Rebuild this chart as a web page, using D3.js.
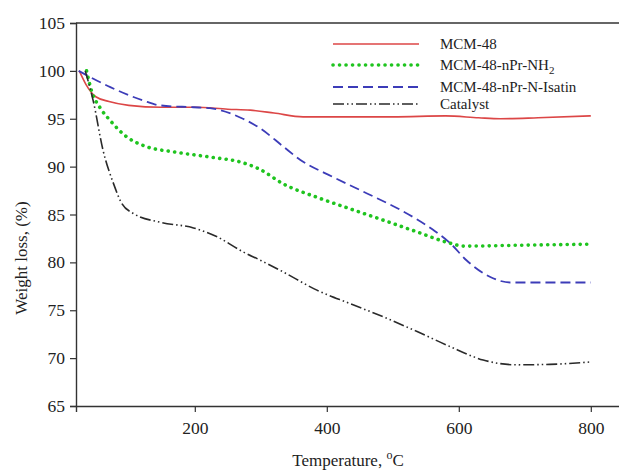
<!DOCTYPE html>
<html>
<head>
<meta charset="utf-8">
<script src="https://cdn.jsdelivr.net/npm/d3@7"></script>
<style>
  html, body { margin: 0; padding: 0; background: #fff; }
  svg { display: block; font-family: "Liberation Serif", "Times New Roman", serif; }
</style>
</head>
<body>
<svg id="chart" width="619" height="471"></svg>
<script>
// ---- data ----
const seriesNames = ["MCM-48", "MCM-48-nPr-NH2", "MCM-48-nPr-N-Isatin", "Catalyst"];
const mcm48 = [[25,100],[35,98.6],[50,97.3],[70,96.8],[100,96.4],[150,96.2],[200,96.2],[250,96.0],[284,95.9],[320,95.6],[364,95.2],[420,95.2],[500,95.2],[580,95.3],[630,95.1],[663,95.0],[720,95.1],[800,95.3]];
const nh2 = [[36,100],[44,97.8],[56,96.2],[72,94.8],[97,93.1],[122,92.2],[172,91.5],[223,91.0],[273,90.4],[299,89.7],[334,88.2],[385,86.8],[435,85.6],[486,84.4],[536,83.2],[587,82.0],[607,81.7],[700,81.8],[800,81.9]];
const isatin = [[24,100],[72,98.3],[122,96.9],[147,96.4],[198,96.2],[223,96.1],[273,95.0],[299,94.0],[334,92.1],[360,90.7],[410,88.9],[461,87.2],[511,85.5],[561,83.4],[587,82.0],[612,80.2],[647,78.5],[678,77.9],[740,77.9],[800,77.9]];
const catalyst = [[34,100],[46,96.9],[61,91.7],[77,88.2],[89,86.2],[107,85.1],[147,84.2],[198,83.6],[233,82.7],[273,81.1],[300,80.2],[334,79.0],[385,77.1],[435,75.7],[486,74.3],[536,72.8],[587,71.2],[637,69.8],[688,69.3],[738,69.35],[800,69.6]];
const seriesData = [mcm48, nh2, isatin, catalyst];
const yTicks = [65, 70, 75, 80, 85, 90, 95, 100, 105];
const xTicks = [200, 400, 600, 800];

// ---- styles / layout ----
const styles = [
  {color: "#dc4646", width: 1.6, dash: null, cap: "butt"},
  {color: "#1fc41f", width: 3.6, dash: "0.1,6.4", cap: "round"},
  {color: "#3c3cb8", width: 1.8, dash: "10,5", cap: "butt"},
  {color: "#2a2a2a", width: 1.6, dash: "11,3,1.5,3,1.5,3", cap: "butt"}
];
const plotLeft = 76, plotTop = 23, plotBottom = 406;
const x = d3.scaleLinear().domain([20, 850]).range([plotLeft, plotLeft + 830 * 0.66]);
const y = d3.scaleLinear().domain([65, 105]).range([plotBottom, plotTop]);

const svg = d3.select("#chart");

// frame
svg.append("line").attr("x1", plotLeft).attr("x2", 619).attr("y1", plotTop).attr("y2", plotTop)
  .attr("stroke", "#333").attr("stroke-width", 1.4);

const yAxis = svg.append("g").attr("transform", `translate(${plotLeft},0)`)
  .call(d3.axisLeft(y).tickValues(yTicks).tickSize(6).tickPadding(5).tickFormat(d3.format("d")));
const xAxis = svg.append("g").attr("transform", `translate(0,${plotBottom})`)
  .call(d3.axisBottom(x).tickValues(xTicks).tickSize(6).tickPadding(10).tickFormat(d3.format("d")));
[yAxis, xAxis].forEach(g => {
  g.selectAll("path").attr("stroke", "#333").attr("stroke-width", 1.4);
  g.selectAll("line").attr("stroke", "#333").attr("stroke-width", 1.2);
  g.selectAll("text").attr("font-family", "Liberation Serif").attr("font-size", 17.5).attr("fill", "#222");
});

// curves
const line = d3.line().x(d => x(d[0])).y(d => y(d[1])).curve(d3.curveMonotoneX);
seriesData.forEach((data, i) => {
  const s = styles[i];
  svg.append("path").datum(data).attr("d", line)
    .attr("fill", "none").attr("stroke", s.color).attr("stroke-width", s.width)
    .attr("stroke-dasharray", s.dash).attr("stroke-linecap", s.cap);
});

// legend
const legendRows = [44, 65, 87, 104];
const lg = svg.append("g");
seriesNames.forEach((name, i) => {
  const s = styles[i];
  lg.append("line").attr("x1", 333).attr("x2", 419).attr("y1", legendRows[i]).attr("y2", legendRows[i])
    .attr("stroke", s.color).attr("stroke-width", s.width)
    .attr("stroke-dasharray", s.dash).attr("stroke-linecap", s.cap);
  const t = lg.append("text").attr("x", 440).attr("y", legendRows[i] + 5)
    .attr("font-size", 15).attr("fill", "#222");
  if (name.endsWith("NH2")) {
    t.append("tspan").text(name.slice(0, -1));
    t.append("tspan").attr("dy", 4).attr("font-size", 11).text("2");
  } else {
    t.text(name);
  }
});

// axis titles
const xt = svg.append("text").attr("x", 348).attr("y", 466).attr("text-anchor", "middle")
  .attr("font-size", 17).attr("fill", "#222");
xt.append("tspan").text("Temperature, ");
xt.append("tspan").attr("dy", -7).attr("font-size", 12).text("o");
xt.append("tspan").attr("dy", 7).text("C");

svg.append("text").attr("transform", "translate(27,258) rotate(-90)")
  .attr("text-anchor", "middle").attr("font-size", 17).attr("fill", "#222")
  .text("Weight loss, (%)");
</script>
</body>
</html>
